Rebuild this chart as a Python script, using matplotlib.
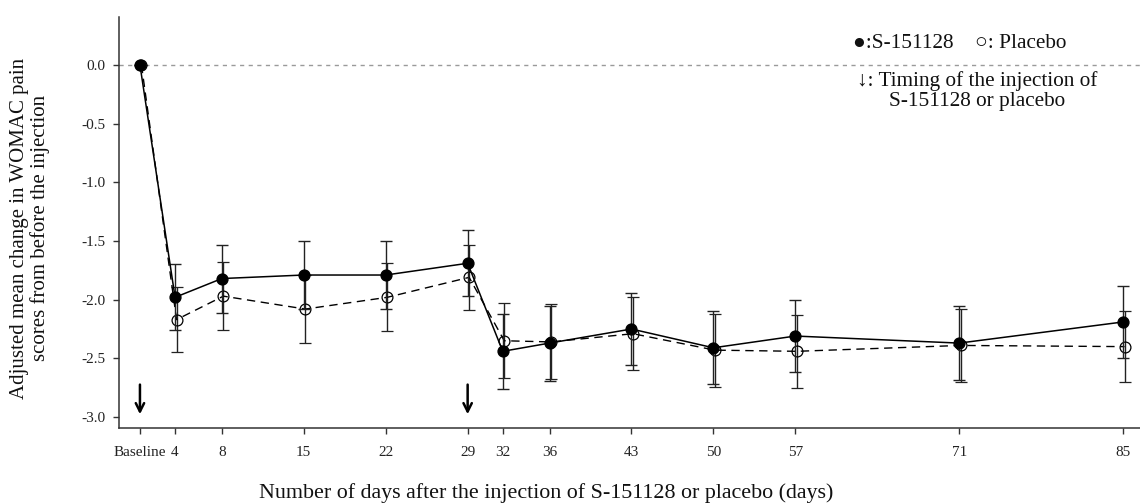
import matplotlib
matplotlib.use("Agg")
import matplotlib.pyplot as plt
import matplotlib.transforms as mtransforms
import numpy as np

# ---- data ----
days = [1, 4, 8, 15, 22, 29, 32, 36, 43, 50, 57, 71, 85]   # Baseline plotted at day 1
tick_labels = ["Baseline", "4", "8", "15", "22", "29", "32", "36", "43", "50", "57", "71", "85"]
s_mean = [0.0, -1.98, -1.82, -1.79, -1.79, -1.69, -2.44, -2.37, -2.25, -2.41, -2.31, -2.37, -2.19]
s_err = [0.0, 0.28, 0.29, 0.29, 0.29, 0.28, 0.32, 0.32, 0.31, 0.31, 0.31, 0.315, 0.31]
p_mean = [0.0, -2.17, -1.97, -2.08, -1.98, -1.81, -2.35, -2.36, -2.29, -2.43, -2.44, -2.39, -2.40]
p_err = [0.0, 0.28, 0.29, 0.29, 0.29, 0.28, 0.32, 0.32, 0.31, 0.31, 0.31, 0.31, 0.305]
injection_days = [1, 29]
y_ticks = [0.0, -0.5, -1.0, -1.5, -2.0, -2.5, -3.0]

plt.rcParams['font.family'] = ['Liberation Serif', 'DejaVu Serif']

fig = plt.figure(figsize=(11.4, 5.04), dpi=100)
ax = fig.add_axes([119/1140, 1 - 428.3/504, 1021/1140, (428.3 - 16.7)/504])

ax.axhline(0, color='#9a9a9a', lw=1.0, dashes=(3, 3.2), zorder=1)

# Placebo (slightly offset to the right, as in the original)
off = mtransforms.offset_copy(ax.transData, fig=fig, x=1.5, y=0, units='dots')
ax.errorbar(days, p_mean, yerr=p_err, color='black', lw=1.0, dashes=(6, 4),
            marker='o', ms=7.8, mfc='none', mec='black', mew=0.9,
            ecolor='#222222', elinewidth=1.0, capsize=4.0, capthick=1.0,
            transform=off, zorder=3)
ax.errorbar(days, s_mean, yerr=s_err, color='black', lw=1.1,
            marker='o', ms=7.8, mfc='black', mec='black',
            ecolor='#222222', elinewidth=1.0, capsize=4.0, capthick=1.0,
            zorder=4)

for d in injection_days:
    ax.annotate('', xy=(d, -3.0), xytext=(d, -2.70),
                arrowprops=dict(arrowstyle='->,head_length=0.6,head_width=0.3',
                                lw=1.8, color='black'))

ax.set_xlim(-0.79, 86.45)
ax.set_ylim(-3.096, 0.411)
ax.set_xticks(days)
ax.set_xticklabels(tick_labels)
ax.set_yticks(y_ticks)
ax.set_yticklabels([f"{v:.1f}".replace('\u2212', '-') for v in y_ticks])

for s in ['top', 'right']:
    ax.spines[s].set_visible(False)
for s in ['left', 'bottom']:
    ax.spines[s].set_linewidth(1.1)
    ax.spines[s].set_color('#333333')
ax.tick_params(axis='both', direction='out', length=4.5, width=1.0, color='#333333',
               labelsize=11, labelcolor='#222222')
ax.tick_params(axis='x', pad=8)
ax.tick_params(axis='y', pad=5)

fig.text(30/1140, 1 - 228/504,
         "Adjusted mean change in WOMAC pain\nscores from before the injection",
         rotation=90, ha='center', va='center', multialignment='center',
         fontsize=15, linespacing=1.05, color='#111111')
fig.text(546/1140, 1 - 493/504,
         "Number of days after the injection of S-151128 or placebo (days)",
         ha='center', va='center', fontsize=15.8, color='#111111')

fig.text(960/1140, 1 - 43/504, "\u25cf:S-151128    \u25cb: Placebo",
         ha='center', va='center', fontsize=15.3, color='#111111')
fig.text(977/1140, 1 - 91/504, "\u2193: Timing of the injection of\nS-151128 or placebo",
         ha='center', va='center', multialignment='center', fontsize=15.3,
         linespacing=1.1, color='#111111')

fig.savefig("out.png", dpi=100)
